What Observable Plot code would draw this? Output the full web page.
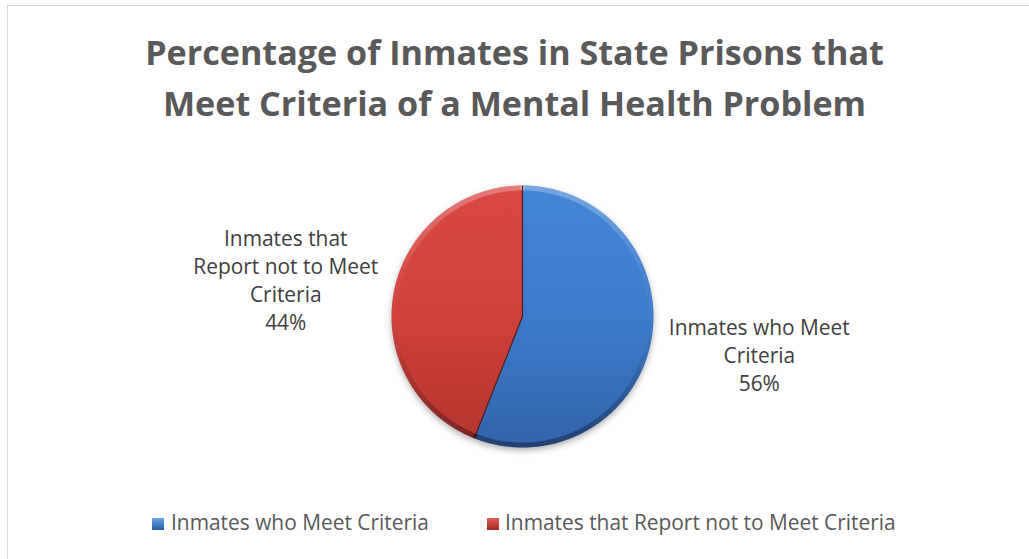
<!DOCTYPE html>
<html><head><meta charset="utf-8">
<script src="https://cdn.jsdelivr.net/npm/d3@7"></script>
<script src="https://cdn.jsdelivr.net/npm/@observablehq/plot@0.6"></script>
<style>
html,body{margin:0;padding:0;background:#fff;overflow:hidden;width:1029px;height:559px;}
#page{position:relative;width:1029px;height:559px;font-family:"Open Sans",sans-serif;overflow:hidden;}
#frame{position:absolute;left:7px;top:5px;width:1100px;height:700px;border:1px solid #d9d9d9;box-sizing:border-box;}
#title{position:absolute;left:0;width:1029px;text-align:center;font-weight:700;color:#595959;white-space:nowrap;}
#chart{position:absolute;left:0;top:150px;}
.leg{position:absolute;white-space:nowrap;color:#595959;line-height:20px;}
.sw{position:absolute;width:12px;height:12px;box-sizing:border-box;}
</style></head><body>
<div id="page"><div id="frame"></div><div id="title"></div><div id="chart"></div><div id="legend"></div></div>
<script>
// ---- data ----
const categories = ["Inmates who Meet Criteria", "Inmates that Report not to Meet Criteria"];
const sliceLabels = ["Inmates who Meet\nCriteria", "Inmates that\nReport not to Meet\nCriteria"];
const percents = [56, 44];
const titleLines = ["Percentage of Inmates in State Prisons that", "Meet Criteria of a Mental Health Problem"];

// ---- styles ----
const gradStops = [
  ["#4385d8", "#3d7bcc", "#3363ab"],
  ["#d94844", "#cf403c", "#b3352f"]
];
const swatchCss = [
  "linear-gradient(#6aa3e8,#2b5da2)",
  "linear-gradient(#e4605b,#a02a26)"
];

// font fitting
const ctx = document.createElement("canvas").getContext("2d");
function tw(text, font){ ctx.font = font; return ctx.measureText(text).width; }
const labelFs = 258 / (tw(categories[0], '100px "Open Sans"') / 100);
const titleFs = 739 / (tw(titleLines[0], 'bold 100px "Open Sans"') / 100);

// title
const title = document.getElementById("title");
const titleLH = 51;
title.style.fontSize = titleFs + "px";
title.style.lineHeight = titleLH + "px";
title.style.top = (66 - (titleLH / 2 + 0.388 * titleFs)) + "px";
title.innerHTML = titleLines.join("<br>");

// pie geometry from data
const R = 131;
const total = d3.sum(percents);
let acc = 0;
const slices = percents.map((v, i) => {
  const s = acc; acc += v / total * 2 * Math.PI;
  return {i, start: s, end: acc, mid: (s + acc) / 2};
});
function arc(s, e, r) {
  const n = Math.max(2, Math.ceil((e - s) / (Math.PI / 360)));
  return d3.range(n + 1).map(k => { const t = s + (e - s) * k / n; return {x: r * Math.sin(t), y: r * Math.cos(t)}; });
}
const polys = slices.map(s => [{x: 0, y: 0}, ...arc(s.start, s.end, 1), {x: 0, y: 0}]);
const rb = 1 - 2.5 / R;

const plot = Plot.plot({
  width: 1029, height: 340,
  margin: 0,
  x: {domain: [-1, 1], range: [522 - R, 522 + R], axis: null},
  y: {domain: [-1, 1], range: [166 + R, 166 - R], axis: null},
  style: {background: "transparent", fontFamily: '"Open Sans", sans-serif'},
  marks: [
    Plot.line(arc(0, 2 * Math.PI, 1), {x: "x", y: "y", fill: "#000", fillOpacity: 0.3, stroke: "none", dy: 3}),
    ...polys.map((p, i) => Plot.line(p, {x: "x", y: "y", fill: `url(#g${i})`, stroke: "none"})),
    ...slices.map(s => Plot.line(arc(s.start, s.end, rb), {x: "x", y: "y", stroke: "url(#bevel)", strokeWidth: 5, fill: "none"})),
    Plot.link(slices, {x1: () => 0, y1: () => 0, x2: d => Math.sin(d.start), y2: d => Math.cos(d.start), stroke: "#4a1f1d", strokeWidth: 1.2}),
    Plot.text(slices, {
      x: d => 1.84 * Math.sin(d.mid), y: d => 1.53 * Math.cos(d.mid),
      text: d => `${sliceLabels[d.i]}\n${percents[d.i]}%`,
      fontSize: labelFs, lineHeight: 28 / labelFs, fill: "#404040", textAnchor: "middle"
    })
  ]
});

const ys = plot.scale("y");
const yTop = ys.apply(1), yBot = ys.apply(-1);
const defs = `<defs>
${gradStops.map((c, i) => `<linearGradient id="g${i}" gradientUnits="userSpaceOnUse" x1="0" y1="${yTop}" x2="0" y2="${yBot}">
<stop offset="0" stop-color="${c[0]}"/><stop offset="0.5" stop-color="${c[1]}"/><stop offset="1" stop-color="${c[2]}"/></linearGradient>`).join("")}
<linearGradient id="bevel" gradientUnits="userSpaceOnUse" x1="0" y1="${yTop}" x2="0" y2="${yBot}">
<stop offset="0" stop-color="#fff" stop-opacity="0.28"/><stop offset="0.35" stop-color="#fff" stop-opacity="0.04"/>
<stop offset="0.65" stop-color="#000" stop-opacity="0.05"/><stop offset="1" stop-color="#000" stop-opacity="0.35"/></linearGradient>
<filter id="blur" x="-20%" y="-20%" width="140%" height="140%"><feGaussianBlur stdDeviation="3"/></filter>
</defs>`;
plot.insertAdjacentHTML("afterbegin", defs);
const lineGroups = plot.querySelectorAll("g[aria-label='line']");
if (lineGroups.length) lineGroups[0].setAttribute("filter", "url(#blur)");
document.getElementById("chart").appendChild(plot);

// legend
const legend = document.getElementById("legend");
const legPos = [[152, 171], [487, 505]];
categories.forEach((c, i) => {
  const sw = document.createElement("div");
  sw.className = "sw";
  sw.style.left = legPos[i][0] + "px";
  sw.style.top = "518px";
  sw.style.background = swatchCss[i];
  legend.appendChild(sw);
  const t = document.createElement("div");
  t.className = "leg";
  t.style.fontSize = labelFs + "px";
  t.style.left = legPos[i][1] + "px";
  t.style.top = (530 - (10 + 0.388 * labelFs)) + "px";
  t.textContent = c;
  legend.appendChild(t);
});
</script>
</body></html>
